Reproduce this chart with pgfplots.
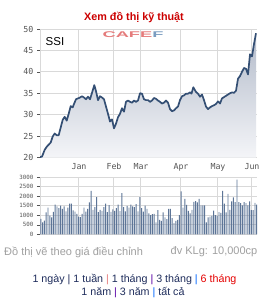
\documentclass[border=0pt]{standalone}
\usepackage{pgfplots}
\pgfplotsset{compat=1.18}
\usepackage{pgfplotstable}
\usepackage{fontspec}
\setmainfont{Liberation Sans}
\newfontfamily\monofont{DejaVu Sans Mono}
\definecolor{titlered}{HTML}{CC0000}
\definecolor{linecol}{HTML}{344F74}
\definecolor{barcol}{HTML}{5D7597}
\definecolor{gridcol}{HTML}{D9D9D9}
\definecolor{tickgray}{HTML}{555555}
\definecolor{filltop}{HTML}{B3BBCA}
\definecolor{fillbot}{HTML}{F4F5F8}
\definecolor{cafered}{HTML}{E57B7B}
\definecolor{cafeblue}{HTML}{7A9CC0}
\definecolor{navy}{HTML}{1F2D5C}
\definecolor{lightgraytext}{HTML}{A0A0A0}

\pgfplotstableread{
x y
40 20.1
42 20.2
44.7 21.8
46.7 22.5
48.7 23.0
50.7 23.5
52.7 24.9
54.7 25.6
56.7 25.2
58.7 25.2
60.7 27.0
62.7 28.8
64.7 29.5
66.7 28.6
68.7 30.2
70.7 32.0
72.7 31.7
74 32.5
76 33.6
78 33.8
80 34.0
82 34.3
84 34.0
86 33.6
88 34.2
90 33.6
92 35.1
94.3 36.9
96 35.5
98 33.4
100 34.3
102 34.0
104 33.6
106 31.9
108 30.2
110 28.4
112 28.9
114 26.8
116 27.9
118 29.4
120 30.2
122 31.5
124 30.7
126 33.0
128 33.3
130 33.0
132 32.8
134 33.3
136 33.0
138 33.3
140 35.0
142 34.9
144 33.6
146 33.4
148 33.4
150 33.0
152 33.3
154 33.9
156 33.7
158 33.3
160 33.0
162 32.6
164 32.8
166 33.3
168 32.8
170 31.3
172 30.8
174 31.0
176 31.5
178 31.9
180 33.4
182 34.3
184 34.5
186 34.9
188 34.9
190 35.2
191.5 34.9
193.3 36.4
196 35.3
198 34.9
200 34.2
202 34.7
204 33.4
206 31.9
208 31.3
210 31.7
212 32.0
214 32.2
216 32.5
218 33.1
220 32.6
222 33.8
224 34.1
226 34.4
228 34.7
230 35.0
232 35.2
234 35.1
236 35.6
238 38.4
240 39.0
242 40.0
244 40.9
246 40.7
248 39.4
250 44.1
252 43.6
254 46.5
256 49.0
}\price

\pgfplotstableread{
x v
40.8 810
42.6 630
44.4 720
46.2 1150
48.0 1400
49.8 980
51.6 880
53.4 1180
55.2 1550
57.0 1460
58.8 1370
60.6 1500
62.4 1330
64.2 1460
66.0 1200
67.8 1400
69.6 1600
71.4 1600
73.2 1250
75.0 1190
76.8 1070
78.6 930
80.4 900
82.2 1070
84.0 1400
85.8 1190
87.6 1330
89.4 1670
91.2 2280
93.0 1280
94.8 1420
96.6 1950
98.4 1160
100.2 1280
102.0 1230
103.8 1420
105.6 1600
107.4 1160
109.2 1530
111.0 1180
112.8 1310
114.6 1230
116.4 1370
118.2 1550
120.0 1210
121.8 2150
123.6 1420
125.4 1200
127.2 1490
129.0 1400
130.8 1560
132.6 1460
134.4 1420
136.2 1580
138.0 1200
139.8 1950
141.6 1370
143.4 1190
145.2 1500
147.0 1330
148.8 1100
150.6 1010
152.4 1060
154.2 1070
156.0 630
157.8 1260
159.6 750
161.4 700
163.2 1150
165.0 880
166.8 800
168.6 1330
170.4 1330
172.2 850
174.0 580
175.8 700
177.6 750
179.4 1000
181.2 2250
183.0 1400
184.8 1860
186.6 1540
188.4 1230
190.2 1100
192.0 1280
193.8 1700
195.6 1740
197.4 1670
199.2 1860
201.0 1510
202.8 1510
204.6 1510
206.4 630
208.2 880
210.0 930
211.8 970
213.6 1240
215.4 1000
217.2 980
219.0 1160
220.8 1120
222.6 2270
224.4 1600
226.2 1150
228.0 2120
229.8 1280
231.6 1720
233.4 1930
235.2 1680
237.0 2860
238.8 1680
240.6 1630
242.4 1510
244.2 1680
246.0 1630
247.8 1510
249.6 1730
251.4 1270
253.2 1270
255.0 1650
256.6 1550
}\volume

\begin{document}
\begin{tikzpicture}[x=1pt,y=1pt]
\path[use as bounding box, fill=white] (0,0) rectangle (268,-303);

% price axis
\begin{axis}[
  at={(40pt,-157.5pt)}, anchor=south west, scale only axis,
  width=217pt, height=128.5pt,
  xmin=40, xmax=257, ymin=20, ymax=50,
  axis x line*=bottom, axis y line*=left,
  axis line style={gridcol},
  xtick={78,113,140,180,217,251},
  xticklabels={Jan,Feb,Mar,Apr,May,Jun},
  ytick={20,25,30,35,40,45,50},
  grid=major, grid style={gridcol, line width=0.8pt},
  tick align=outside, major tick length=3pt,
  xtick style={draw=none},
  ytick style={tickgray, line width=0.5pt},
  /pgf/number format/assume math mode=true,
  xticklabel style={font=\monofont\fontsize{8.3}{9}\selectfont, text=tickgray, yshift=1pt, xshift=1pt},
  yticklabel style={font=\monofont\fontsize{8.3}{9}\selectfont, text=tickgray},
  clip=true,
]
\addplot[draw=none, top color=filltop, bottom color=fillbot] table[x=x,y=y]{\price} |- (axis cs:40,20) -- cycle;
\addplot[linecol, line width=1.7pt, line join=round] table[x=x,y=y]{\price};
\end{axis}

% volume axis
\begin{axis}[
  at={(40pt,-234.3pt)}, anchor=south west, scale only axis,
  width=217pt, height=57.3pt,
  xmin=40, xmax=257, ymin=0, ymax=3000,
  axis x line*=bottom, axis y line*=left,
  axis line style={gridcol},
  xtick={78,113,140,180,217,251},
  xticklabels={},
  ytick={0,500,1000,1500,2000,2500,3000},
  grid=major, grid style={gridcol, line width=0.8pt},
  tick align=outside, major tick length=3pt,
  xtick style={draw=none},
  ytick style={tickgray, line width=0.5pt},
  scaled y ticks=false,
  /pgf/number format/1000 sep={},
  /pgf/number format/assume math mode=true,
  yticklabel style={font=\monofont\fontsize{5.8}{6}\selectfont, text=tickgray},
]
\addplot[ybar, bar width=0.95, draw=none, fill=barcol] table[x=x,y=v]{\volume};
\end{axis}

\node[font=\bfseries\fontsize{10.8}{12}\selectfont, text=titlered] at (134,-17) {Xem đồ thị kỹ thuật};
\node[anchor=west, inner sep=0pt, font=\fontsize{11.5}{12}\selectfont] at (45.5,-42) {SSI};
\node[inner sep=0pt] at (133,-35) {\scalebox{2.2}[1]{\bfseries\fontsize{8.3}{9}\selectfont\textcolor{cafered}{CAFE}\textcolor{cafeblue}{F}}};

\node[anchor=west, inner sep=0pt, text=lightgraytext, font=\fontsize{11}{12}\selectfont] at (4,-252) {Đồ thị vẽ theo giá điều chỉnh};
\node[anchor=east, inner sep=0pt, text=lightgraytext, font=\fontsize{11}{12}\selectfont] at (257.5,-252) {đv KLg: 10,000cp};

\node[inner sep=0pt, text=navy, font=\fontsize{10.7}{12}\selectfont] at (134.5,-279.5) {1 ngày \textcolor{navy}{|} 1 tuần \textcolor{cafered}{|} 1 tháng \textcolor{violet!70!blue}{|} 3 tháng \textcolor{blue!60!cyan}{|} \textcolor{red!90!black}{6 tháng}};
\node[inner sep=0pt, text=navy, font=\fontsize{10.7}{12}\selectfont] at (133,-292.5) {1 năm \textcolor{violet!70!blue}{|} 3 năm \textcolor{blue!60!cyan}{|} tất cả};
\end{tikzpicture}
\end{document}
